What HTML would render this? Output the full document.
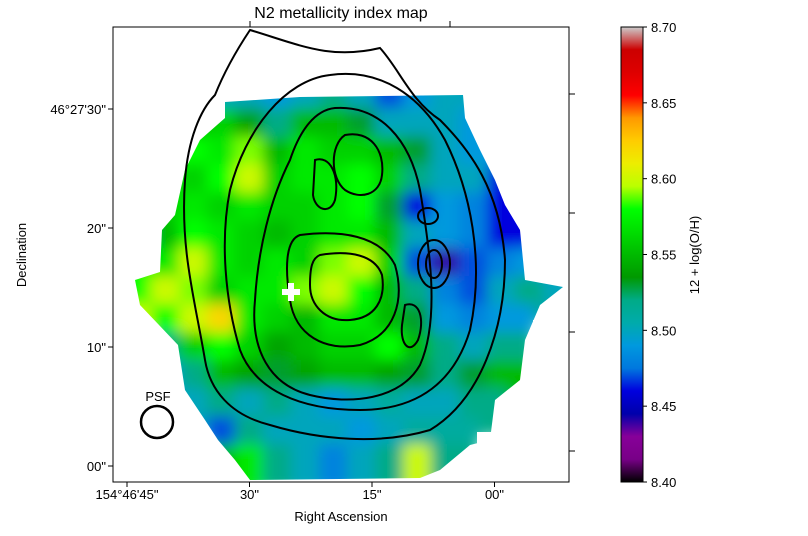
<!DOCTYPE html>
<html><head><meta charset="utf-8"><style>
body{margin:0;background:#fff;}
svg{display:block;font-family:"Liberation Sans",sans-serif;}
</style></head><body>
<svg id="chart" width="808" height="536" viewBox="0 0 808 536">
<defs>
<filter id="blur" x="-5%" y="-5%" width="110%" height="110%"><feGaussianBlur stdDeviation="7"/></filter>
<clipPath id="mapclip"></clipPath>
<clipPath id="blobclip"><path d="M225,102 L300,97 L463,95 L465,118 L480,150 L495,180 L505,205 L520,230 L525,280 L563,287 L540,305 L525,340 L520,380 L495,400 L490,440 L470,445 L440,470 L420,478 L250,480 L235,460 L218,440 L205,420 L185,390 L178,345 L140,305 L135,280 L160,272 L162,230 L175,215 L185,170 L200,140 L225,118 Z"/></clipPath>
<clipPath id="plotclip"><rect x="113" y="27" width="456" height="455"/></clipPath>
<linearGradient id="cbgrad" x1="0" y1="1" x2="0" y2="0"></linearGradient>
</defs>
<text x="341" y="18" font-size="16" text-anchor="middle">N2 metallicity index map</text>
<g clip-path="url(#plotclip)">
<g clip-path="url(#blobclip)"><g clip-path="url(#mapclip)"><g id="cells" filter="url(#blur)"></g></g></g>
<g fill="none" stroke="#000" stroke-width="2">
<path d="M250,30 C300,45 330,60 380,48 C400,70 410,100 440,120 C470,150 500,190 505,260 C505,330 480,400 430,430 C380,445 320,440 270,425 C230,415 210,390 205,360 C195,300 180,250 185,180 C188,140 200,110 215,95 C225,70 240,45 250,30 Z"/>
<path d="M330,75 C380,68 420,95 445,140 C470,190 485,260 470,330 C455,380 420,410 360,410 C300,410 255,390 240,350 C225,300 220,240 230,190 C245,130 285,80 330,75 Z"/>
<path d="M335,108 C380,105 410,140 420,190 C430,250 440,320 420,365 C400,400 350,405 310,395 C270,385 250,350 255,300 C258,250 270,200 290,160 C300,130 315,110 335,108 Z"/>
<path d="M300,235 C340,230 380,235 395,265 C405,300 395,335 360,345 C325,352 295,335 290,300 C285,270 285,240 300,235 Z"/>
<path d="M320,255 C350,250 375,255 382,275 C386,300 375,318 350,320 C325,322 310,305 310,285 C310,268 312,258 320,255 Z"/>
<path d="M345,135 C370,130 385,150 382,175 C380,195 360,200 345,190 C330,178 330,145 345,135 Z"/>
<path d="M315,160 C330,155 340,175 335,200 C330,215 315,210 313,195 Z"/>
<ellipse cx="434" cy="264" rx="16" ry="24"/>
<ellipse cx="434" cy="264" rx="8" ry="14"/>
<ellipse cx="428" cy="216" rx="10" ry="8"/>
<path d="M405,305 C420,300 425,320 418,340 C410,355 400,345 402,325 Z"/>
</g>
<path d="M291,283 v18 M282,292 h18" stroke="#fff" stroke-width="6"/>
<circle cx="157" cy="422" r="16" fill="none" stroke="#000" stroke-width="2.5"/>
<text x="158" y="401" font-size="13" text-anchor="middle">PSF</text>
</g>
<rect x="113" y="27" width="456" height="455" fill="none" stroke="#000" stroke-width="1"/>
<g id="axes" font-size="13"></g>
<text x="341" y="521" font-size="13" text-anchor="middle">Right Ascension</text>
<text transform="translate(26,255) rotate(-90)" font-size="13" text-anchor="middle">Declination</text>
<rect x="621" y="27" width="22" height="455" fill="url(#cbgrad)" stroke="#000" stroke-width="1"/>
<g id="cbaxis" font-size="13"></g>
<text transform="translate(699,255) rotate(-90)" font-size="13" text-anchor="middle">12 + log(O/H)</text>
</svg>
<script>
const colStart = [3,2,1,1,1,0,0,0,0,1,1,2,3,3];
const gridValues = [
[8.50,8.50,8.49,8.50,8.52,8.50,8.47,8.49,8.50],
[8.55,8.56,8.54,8.52,8.55,8.55,8.53,8.50,8.50,8.50,8.49],
[8.58,8.58,8.57,8.59,8.55,8.57,8.56,8.56,8.55,8.53,8.50,8.49],
[8.57,8.56,8.58,8.60,8.56,8.57,8.57,8.58,8.56,8.52,8.50,8.50,8.46],
[8.56,8.57,8.56,8.57,8.56,8.56,8.57,8.58,8.53,8.46,8.49,8.48,8.46],
[8.52,8.55,8.58,8.57,8.56,8.55,8.56,8.57,8.57,8.55,8.50,8.49,8.48,8.46],
[8.58,8.57,8.60,8.57,8.56,8.57,8.56,8.59,8.60,8.56,8.47,8.44,8.47,8.48,8.49],
[8.58,8.60,8.59,8.56,8.57,8.57,8.59,8.60,8.58,8.55,8.52,8.48,8.47,8.50,8.52,8.50],
[8.60,8.58,8.60,8.62,8.57,8.56,8.55,8.57,8.57,8.55,8.53,8.49,8.48,8.49],
[8.52,8.56,8.58,8.56,8.54,8.55,8.56,8.56,8.58,8.55,8.52,8.50,8.52],
[8.49,8.52,8.55,8.54,8.53,8.54,8.55,8.55,8.54,8.53,8.52,8.53,8.55],
[8.50,8.52,8.50,8.52,8.50,8.49,8.50,8.51,8.50,8.50,8.52],
[8.47,8.52,8.50,8.50,8.50,8.49,8.50,8.51,8.51],
[8.55,8.57,8.52,8.50,8.48,8.50,8.52,8.60,8.52]
];
const cbTicks = [8.40,8.45,8.50,8.55,8.60,8.65,8.70];
const yTickLabels = ["00\"","10\"","20\"","46°27'30\""];
const xTickLabels = ["154°46'45\"","30\"","15\"","00\""];
const vmin = 8.40, vmax = 8.70;
const cmapStops=[[0,0,0,0],[.05,.47,0,.53],[.1,.53,0,.6],[.15,0,0,.67],[.2,0,0,.87],[.25,0,.47,.87],[.3,0,.6,.87],[.35,0,.67,.67],[.4,0,.67,.53],[.45,0,.6,0],[.5,0,.73,0],[.55,0,.87,0],[.6,0,1,0],[.65,.73,1,0],[.7,.93,.93,0],[.75,1,.8,0],[.8,1,.6,0],[.85,1,0,0],[.9,.87,0,0],[.95,.8,0,0],[1,.8,.8,.8]];
function cmap(t){t=Math.max(0,Math.min(1,t));for(let i=1;i<cmapStops.length;i++){const a=cmapStops[i-1],b=cmapStops[i];if(t<=b[0]){const f=(t-a[0])/(b[0]-a[0]);const c=[1,2,3].map(k=>Math.round(255*(a[k]+(b[k]-a[k])*f)));return `rgb(${c[0]},${c[1]},${c[2]})`;}}return "rgb(204,204,204)";}
const NS="http://www.w3.org/2000/svg";
const cell=28, gx0=133, gy0=90;
const xCell=c=>gx0+c*cell, yCell=r=>gy0+r*cell;
const cells=document.getElementById('cells'), clip=document.getElementById('mapclip');
gridValues.forEach((row,r)=>row.forEach((v,i)=>{
 const c=colStart[r]+i;
 const rc=document.createElementNS(NS,'rect');
 rc.setAttribute('x',xCell(c)-10);rc.setAttribute('y',yCell(r)-10);rc.setAttribute('width',cell+20);rc.setAttribute('height',cell+20);
 rc.setAttribute('fill',cmap((v-vmin)/(vmax-vmin)));
 
 
 cells.appendChild(rc);
 const k=document.createElementNS(NS,'rect');
 k.setAttribute('x',xCell(c)-8);k.setAttribute('y',yCell(r)-6);k.setAttribute('width',cell+16);k.setAttribute('height',cell+12);
 clip.appendChild(k);
}));
const g=document.getElementById('cbgrad');
for(let i=0;i<=40;i++){const s=document.createElementNS(NS,'stop');s.setAttribute('offset',(i/40));s.setAttribute('stop-color',cmap(i/40));g.appendChild(s);}
const cbY=v=>482-(v-vmin)/(vmax-vmin)*455;
const cba=document.getElementById('cbaxis');
cbTicks.forEach(v=>{
 const l=document.createElementNS(NS,'line');l.setAttribute('x1',643);l.setAttribute('x2',647);l.setAttribute('y1',cbY(v));l.setAttribute('y2',cbY(v));l.setAttribute('stroke','#000');
 
 
 cba.appendChild(l);
 const t=document.createElementNS(NS,'text');t.setAttribute('x',651);t.setAttribute('y',cbY(v)+5);t.textContent=v.toFixed(2);
 
 
 cba.appendChild(t);
});
const ax=document.getElementById('axes');
const yTickY=i=>466-i*119, xTickX=i=>127+i*122.5;
yTickLabels.forEach((s,i)=>{
 const l=document.createElementNS(NS,'line');l.setAttribute('x1',108);l.setAttribute('x2',113);l.setAttribute('y1',yTickY(i));l.setAttribute('y2',yTickY(i));l.setAttribute('stroke','#000');
 
 
 ax.appendChild(l);
 const t=document.createElementNS(NS,'text');t.setAttribute('x',106);t.setAttribute('y',yTickY(i)+5);t.setAttribute('text-anchor','end');t.textContent=s;
 
 
 ax.appendChild(t);
 const r=document.createElementNS(NS,'line');r.setAttribute('x1',569);r.setAttribute('x2',575);r.setAttribute('y1',yTickY(i)-15);r.setAttribute('y2',yTickY(i)-15);r.setAttribute('stroke','#000');
 
 
 ax.appendChild(r);
});
xTickLabels.forEach((s,i)=>{
 const l=document.createElementNS(NS,'line');l.setAttribute('x1',xTickX(i));l.setAttribute('x2',xTickX(i));l.setAttribute('y1',482);l.setAttribute('y2',487);l.setAttribute('stroke','#000');
 
 
 ax.appendChild(l);
 const t=document.createElementNS(NS,'text');t.setAttribute('x',xTickX(i));t.setAttribute('y',499);t.setAttribute('text-anchor','middle');t.textContent=s;
 
 
 ax.appendChild(t);
});
[250,450].forEach(x=>{const l=document.createElementNS(NS,'line');l.setAttribute('x1',x);l.setAttribute('x2',x);l.setAttribute('y1',21);l.setAttribute('y2',27);l.setAttribute('stroke','#000');
 
 
 ax.appendChild(l);});
</script>
</body></html>
